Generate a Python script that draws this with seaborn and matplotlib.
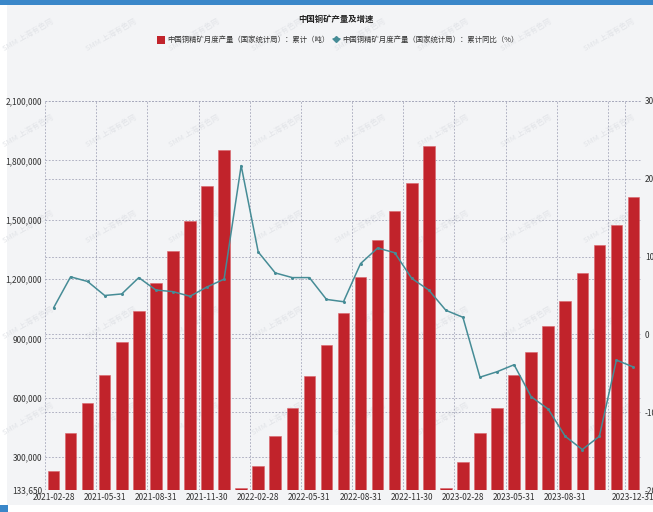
import numpy as np
import pandas as pd
import matplotlib
matplotlib.use('Agg')
import matplotlib.pyplot as plt
import seaborn as sns
from matplotlib.patches import Rectangle, Patch
from matplotlib.lines import Line2D

sns.set_theme(style='white')
plt.rcParams['font.family'] = ['Noto Sans CJK SC', 'DejaVu Sans']
plt.rcParams['axes.unicode_minus'] = False

# ---- data ----
dates = pd.date_range('2021-02-28', '2023-12-31', freq='ME').strftime('%Y-%m-%d').tolist()
output = [231000, 423000, 572000, 715000, 880000, 1040000, 1179000, 1340000, 1493000, 1670000, 1852000,
          142000, 255000, 407000, 548000, 710000, 867000, 1028000, 1208000, 1396000, 1544000, 1686000, 1873000,
          146000, 277000, 420000, 550000, 715000, 830000, 964000, 1091000, 1232000, 1372000, 1473000, 1613000]
yoy = [3.4, 7.4, 6.8, 5.0, 5.2, 7.3, 5.7, 5.5, 4.9, 6.1, 7.1,
       21.7, 10.6, 7.9, 7.3, 7.3, 4.5, 4.2, 9.1, 11.1, 10.5, 7.2, 5.7,
       3.1, 2.2, -5.5, -4.8, -3.9, -8.0, -9.6, -13.1, -14.8, -13.1, -3.3, -4.2]
left_ticks = [133650, 300000, 600000, 900000, 1200000, 1500000, 1800000, 2100000]
right_ticks = [-20, -10, 0, 10, 20, 30]
label_idx = [0, 3, 6, 9, 12, 15, 18, 21, 24, 27, 30, 34]
grid_idx = [0, 3, 6, 9, 12, 15, 18, 21, 24, 27, 30, 33, 34]

title = '中国铜矿产量及增速'
bar_label = '中国铜精矿月度产量（国家统计局）：累计（吨）'
line_label = '中国铜精矿月度产量（国家统计局）：累计同比（%）'

BAR = '#C1232B'
LINE = '#468C96'
GRID = '#A3A5B8'
TXT = '#333333'

n = len(dates)
df = pd.DataFrame({'date': dates, 'output': output, 'yoy': yoy, 'idx': np.arange(n)})

W, H = 653, 512
fig = plt.figure(figsize=(W / 100, H / 100), dpi=100, facecolor='white')
fig.patches.append(Rectangle((7 / W, 7 / H), 1, 1 - 12 / H, transform=fig.transFigure,
                             facecolor='#F3F4F6', edgecolor='none', zorder=-5))
fig.patches.append(Rectangle((0, 1 - 5 / H), 1, 5 / H, transform=fig.transFigure,
                             facecolor='#3A87C9', edgecolor='none', zorder=-4))
fig.patches.append(Rectangle((0, 0), 8 / W, 7 / H, transform=fig.transFigure,
                             facecolor='#3A87C9', edgecolor='none', zorder=-4))

# watermarks
for yy in np.arange(35, 512, 96):
    for xx in np.arange(28, 660, 83):
        fig.text(xx / W, 1 - yy / H, 'SMM 上海有色网', rotation=30, fontsize=5.5,
                 color='#E2E4E8', ha='center', va='center', zorder=-3)

pos = [45 / W, 22 / H, 597 / W, 389 / H]
ax = fig.add_axes(pos)
ax.set_facecolor('none')
axg = ax.twinx()
ax2 = ax.twinx()
axg.set_zorder(1)
ax.set_zorder(2)
ax2.set_zorder(3)
for a in (ax, axg, ax2):
    a.patch.set_visible(False)
    for s in a.spines.values():
        s.set_visible(False)

sns.barplot(data=df, x='date', y='output', color=BAR, width=0.68, saturation=1,
            edgecolor='#D9646C', linewidth=0.4, ax=ax)
sns.lineplot(data=df, x='idx', y='yoy', color=LINE, linewidth=1.1, marker='o',
             markersize=2.2, markeredgewidth=0, ax=ax2)

ax.set_xlim(-0.5, n - 0.5)
ax.set_ylim(left_ticks[0], left_ticks[-1])
ax2.set_ylim(right_ticks[0], right_ticks[-1])
axg.set_ylim(right_ticks[0], right_ticks[-1])

ax.set_xticks(label_idx)
ax.set_xticklabels([dates[i] for i in label_idx], fontsize=6, color=TXT)
ax.set_xticks([i - 0.5 for i in grid_idx] + [n - 0.5], minor=True)
ax.set_yticks(left_ticks)
ax.set_yticklabels([f'{v:,}' for v in left_ticks], fontsize=6, color=TXT)
ax2.set_yticks(right_ticks)
ax2.set_yticklabels([str(v) for v in right_ticks], fontsize=6, color=TXT)
axg.set_yticks(right_ticks)
axg.set_yticklabels([])

ax.set_xlabel('')
ax.set_ylabel('')
ax2.set_xlabel('')
ax2.set_ylabel('')
ax.tick_params(axis='both', which='both', length=0, pad=2)
ax2.tick_params(axis='both', length=0, pad=2)
axg.tick_params(axis='both', length=0)

dash = (0, (2, 2))
ax.grid(False)
ax.set_axisbelow(True)
ax.grid(axis='y', which='major', color=GRID, linestyle=dash, linewidth=0.6)
ax.grid(axis='x', which='minor', color=GRID, linestyle=dash, linewidth=0.6)
axg.grid(axis='y', color=GRID, linestyle=dash, linewidth=0.6)
ax2.grid(False)

fig.text(336 / W, 1 - 19 / H, title, ha='center', va='center', fontsize=6,
         fontweight='bold', color='#222222')
handles = [Patch(facecolor=BAR, edgecolor='none'),
           Line2D([], [], color=LINE, marker='D', markersize=3, linewidth=1.1)]
fig.legend(handles, [bar_label, line_label], loc='center', bbox_to_anchor=(338 / W, 1 - 40 / H),
           ncol=2, frameon=False, fontsize=5.3, handlelength=1.0, handleheight=1.3,
           columnspacing=0.5, handletextpad=0.3, labelcolor=TXT)

fig.savefig('out.png', dpi=100, facecolor=fig.get_facecolor())
